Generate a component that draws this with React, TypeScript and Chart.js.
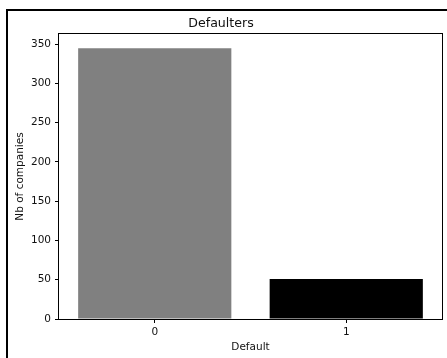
import React, { useEffect, useRef } from "react";
import { Chart, registerables } from "chart.js";

Chart.register(...registerables);

const categories = ["0", "1"];
const counts = [345, 51];
const barColors = ["#808080", "#000000"];
const yTickStep = 50;
const yMax = 363;

const FONT = "'DejaVu Sans', sans-serif";

const boxPlugin = {
  id: "boxPlugin",
  afterDatasetsDraw(chart: any) {
    const { ctx, chartArea } = chart;
    ctx.save();
    ctx.strokeStyle = "#000";
    ctx.lineWidth = 1;
    ctx.strokeRect(
      Math.round(chartArea.left) - 0.5,
      Math.round(chartArea.top) - 0.5,
      Math.round(chartArea.right - chartArea.left) + 1,
      Math.round(chartArea.bottom - chartArea.top) + 1
    );
    ctx.restore();
  },
};

export default function App() {
  const ref = useRef<HTMLCanvasElement>(null);
  useEffect(() => {
    document.body.style.margin = "0";
    const chart = new Chart(ref.current!, {
      type: "bar",
      data: {
        labels: categories,
        datasets: [
          {
            data: counts,
            backgroundColor: barColors,
            borderWidth: 0,
            barPercentage: 0.8,
            categoryPercentage: 1,
          },
        ],
      },
      options: {
        responsive: false,
        animation: false,
        layout: { padding: { left: 0, top: 0, right: 5, bottom: 0 } },
        plugins: {
          legend: { display: false },
          tooltip: { enabled: false },
          title: {
            display: true,
            text: "Defaulters",
            color: "#111",
            font: { family: FONT, size: 12.6, weight: "normal" },
            padding: { top: 16.4, bottom: 2.5 },
          },
        },
        scales: {
          x: {
            afterFit(scale: any) {
              scale.height = 39;
            },
            grid: {
              display: true,
              offset: false,
              drawOnChartArea: false,
              drawTicks: true,
              tickLength: 4,
              tickColor: "#000",
            },
            border: { display: false },
            ticks: {
              color: "#111",
              padding: 3,
              font: { family: FONT, size: 10.5 },
            },
            title: {
              display: true,
              text: "Default",
              color: "#111",
              font: { family: FONT, size: 10.5 },
              padding: { top: 0, bottom: 4.7 },
            },
          },
          y: {
            min: 0,
            max: yMax,
            afterFit(scale: any) {
              scale.width = 59;
            },
            grid: {
              display: true,
              drawOnChartArea: false,
              drawTicks: true,
              tickLength: 4,
              tickColor: "#000",
            },
            border: { display: false },
            ticks: {
              stepSize: yTickStep,
              includeBounds: false,
              color: "#111",
              padding: 4,
              font: { family: FONT, size: 10.5 },
            },
            title: {
              display: true,
              text: "Nb of companies",
              color: "#111",
              font: { family: FONT, size: 10.5 },
              padding: { top: 14, bottom: 0 },
            },
          },
        },
      },
      plugins: [boxPlugin],
    });
    return () => chart.destroy();
  }, []);
  return (
    <div
      style={{
        position: "relative",
        width: 447,
        height: 358,
        overflow: "hidden",
        background: "#fff",
      }}
    >
      <canvas ref={ref} width={447} height={358} style={{ display: "block" }} />
      <div
        style={{
          position: "absolute",
          left: 6,
          top: 9,
          width: 500,
          height: 400,
          border: "2px solid #000",
          pointerEvents: "none",
        }}
      />
    </div>
  );
}
